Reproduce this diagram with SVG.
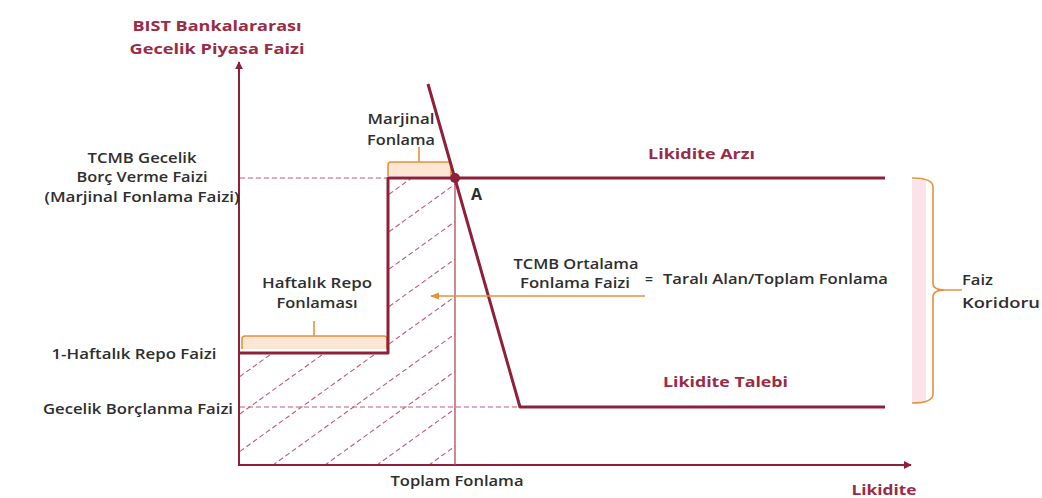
<svg xmlns="http://www.w3.org/2000/svg" width="1042" height="498" viewBox="0 0 1042 498">
<style>
.t{font-family:"Open Sans","Liberation Sans",sans-serif;font-weight:600;font-size:14px;fill:#2e2e2e}
.m{font-family:"Open Sans","Liberation Sans",sans-serif;font-weight:700;font-size:15px;fill:#9a2b45}
.c{text-anchor:middle}
.axis{stroke:#8f2039;stroke-width:2;fill:none}
.curve{stroke:#8f2039;stroke-width:3;fill:none;stroke-linejoin:round}
.dash{stroke:#c25a72;stroke-width:1.2;stroke-dasharray:5,3;fill:none}
.hatch{stroke:#c25a72;stroke-width:1.1;stroke-dasharray:5,3;fill:none}
.br{stroke:#e8913d;stroke-width:1.6;fill:#fde6d3}
.brs{stroke:#e8913d;stroke-width:1.6;fill:none}
</style>
<defs>
<marker id="ax" viewBox="0 0 10 10" refX="9" refY="5" markerWidth="4" markerHeight="4" orient="auto"><path d="M0,0 L10,5 L0,10 z" fill="#8f2039"/></marker>
<marker id="oa" viewBox="0 0 10 10" refX="9" refY="5" markerWidth="6" markerHeight="6" orient="auto"><path d="M0,1 L10,5 L0,9 z" fill="#e8913d"/></marker>
<clipPath id="hc"><polygon points="240,353 388,353 388,178 455,178 455,465 240,465"/></clipPath>
</defs>
<rect width="1042" height="498" fill="#fff"/>
<g id="hatch" clip-path="url(#hc)">
<line class="hatch" x1="-7" y1="479.4" x2="433" y2="162.6"/>
<line class="hatch" x1="45" y1="479.4" x2="485" y2="162.6"/>
<line class="hatch" x1="97" y1="479.4" x2="537" y2="162.6"/>
<line class="hatch" x1="149" y1="479.4" x2="589" y2="162.6"/>
<line class="hatch" x1="201" y1="479.4" x2="641" y2="162.6"/>
<line class="hatch" x1="253" y1="479.4" x2="693" y2="162.6"/>
<line class="hatch" x1="305" y1="479.4" x2="745" y2="162.6"/>
<line class="hatch" x1="357" y1="479.4" x2="797" y2="162.6"/>
<line class="hatch" x1="409" y1="479.4" x2="849" y2="162.6"/>
</g>
<g id="brackets">
<rect x="912" y="180" width="14" height="222" fill="#fbe4e9"/>
<path class="br" d="M388,176 V165 Q388,162 391,162 H448 Q451,162 451,165 V176"/>
<path class="brs" d="M419,162 V147"/>
<path class="br" d="M242,349 V339 Q242,336 245,336 H384 Q387,336 387,339 V349"/>
<path class="brs" d="M314,336 V321"/>
<path class="brs" d="M912,178 Q933,178 933,187 V283 Q933,290 945,290 H962 M945,290 Q933,290 933,297 V394 Q933,403 912,403"/>
</g>
<g id="connectors">
<line class="axis" x1="239" y1="466" x2="239" y2="62" marker-end="url(#ax)"/>
<line class="axis" x1="238" y1="465" x2="911" y2="465" marker-end="url(#ax)"/>
<path class="dash" d="M240,178 H388"/>
<path class="dash" d="M240,407 H520"/>
<line x1="455" y1="178" x2="455" y2="465" stroke="#b8485e" stroke-width="1.3"/>
<path id="supply" class="curve" d="M240,353 H388 V178 H885"/>
<path id="demand" class="curve" d="M428,84 L520,407 H885"/>
<circle id="A-point" cx="455" cy="178" r="5" fill="#8f2039"/>
<line x1="645" y1="296" x2="431" y2="296" stroke="#e8913d" stroke-width="1.5" marker-end="url(#oa)"/>
</g>
<g id="y-title"><text class="m c" x="217" y="31" textLength="169" lengthAdjust="spacingAndGlyphs">BIST Bankalararası</text><text class="m c" x="217" y="54" textLength="175" lengthAdjust="spacingAndGlyphs">Gecelik Piyasa Faizi</text></g>
<g id="tcmb-gecelik"><text class="t c" x="142" y="163" textLength="109" lengthAdjust="spacingAndGlyphs">TCMB Gecelik</text><text class="t c" x="142" y="182" textLength="131" lengthAdjust="spacingAndGlyphs">Borç Verme Faizi</text><text class="t c" x="142" y="202" textLength="195" lengthAdjust="spacingAndGlyphs">(Marjinal Fonlama Faizi)</text></g>
<g id="marjinal-fonlama"><text class="t c" x="401" y="124" textLength="67" lengthAdjust="spacingAndGlyphs">Marjinal</text><text class="t c" x="401" y="145" textLength="68" lengthAdjust="spacingAndGlyphs">Fonlama</text></g>
<g id="point-A"><text class="t" x="471" y="200" style="font-size:16px;font-weight:700">A</text></g>
<g id="haftalik-repo"><text class="t c" x="317" y="288" textLength="110" lengthAdjust="spacingAndGlyphs">Haftalık Repo</text><text class="t c" x="317" y="308" textLength="81" lengthAdjust="spacingAndGlyphs">Fonlaması</text></g>
<g id="repo-faizi"><text class="t c" x="134" y="359" textLength="165" lengthAdjust="spacingAndGlyphs">1-Haftalık Repo Faizi</text></g>
<g id="borclanma-faizi"><text class="t c" x="138" y="414" textLength="190" lengthAdjust="spacingAndGlyphs">Gecelik Borçlanma Faizi</text></g>
<g id="toplam-fonlama"><text class="t c" x="457" y="486" textLength="133" lengthAdjust="spacingAndGlyphs">Toplam Fonlama</text></g>
<g id="x-title"><text class="m c" x="884" y="495" textLength="65" lengthAdjust="spacingAndGlyphs">Likidite</text></g>
<g id="ortalama"><text class="t c" x="576" y="269" textLength="125" lengthAdjust="spacingAndGlyphs">TCMB Ortalama</text><text class="t c" x="575" y="288" textLength="110" lengthAdjust="spacingAndGlyphs">Fonlama Faizi</text><text class="t" x="645" y="284">=</text><text class="t" x="663" y="284" textLength="225" lengthAdjust="spacingAndGlyphs">Taralı Alan/Toplam Fonlama</text></g>
<g id="likidite-arzi"><text class="m" x="648" y="159" textLength="107" lengthAdjust="spacingAndGlyphs">Likidite Arzı</text></g>
<g id="likidite-talebi"><text class="m" x="663" y="387" textLength="125" lengthAdjust="spacingAndGlyphs">Likidite Talebi</text></g>
<g id="faiz-koridoru"><text class="t" x="962" y="285" textLength="31" lengthAdjust="spacingAndGlyphs">Faiz</text><text class="t" x="962" y="308" textLength="78" lengthAdjust="spacingAndGlyphs">Koridoru</text></g>
</svg>
